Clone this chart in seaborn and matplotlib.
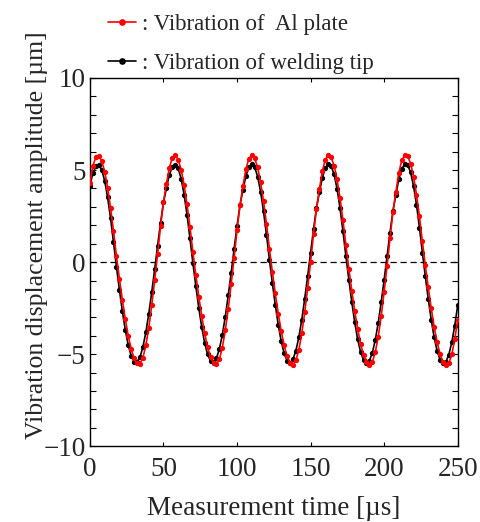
import numpy as np
import pandas as pd
import matplotlib
matplotlib.use("Agg")
import matplotlib.pyplot as plt
from matplotlib.lines import Line2D
from matplotlib.ticker import MultipleLocator
import seaborn as sns

# sampling grid of the measurement (2 us step)
t_step = 2.0
t_us = np.arange(0, 250 + t_step, t_step)

# displacement of the Al plate [um] (one row per cycle)
al_plate = [
    4.30, 5.23, 5.70, 5.78, 5.50, 4.92, 4.05, 2.96, 1.70, 0.35, -0.89, -2.03, -3.08,
    -3.99, -4.71, -5.23, -5.50, -5.52, -5.19, -4.52, -3.55, -2.35, -0.99, 0.45, 1.94, 3.28,
    4.26, 5.13, 5.66, 5.80, 5.56, 5.03, 4.20, 3.14, 1.90, 0.55, -0.71, -1.87, -2.93,
    -3.87, -4.62, -5.17, -5.48, -5.54, -5.27, -4.64, -3.71, -2.54, -1.20, 0.23, 1.73, 3.09,
    4.12, 5.04, 5.62, 5.81, 5.63, 5.14, 4.34, 3.31, 2.09, 0.74, -0.53, -1.70, -2.79,
    -3.74, -4.52, -5.11, -5.46, -5.57, -5.34, -4.77, -3.87, -2.73, -1.41, 0.01, 1.51, 2.91,
    3.97, 4.94, 5.57, 5.80, 5.69, 5.24, 4.49, 3.49, 2.29, 0.94, -0.35, -1.54, -2.64,
    -3.62, -4.43, -5.05, -5.44, -5.56, -5.42, -4.89, -4.04, -2.93, -1.62, -0.21, 1.30, 2.72,
    3.82, 4.85, 5.53, 5.80, 5.76, 5.35, 4.64, 3.67, 2.48, 1.13, -0.18, -1.37, -2.49,
    -3.50, -4.34, -4.99, -5.42, -5.56, -5.49, -5.01, -4.20, -3.12,
]

# displacement of the welding tip [um]
welding_tip = [
    4.15, 4.83, 5.21, 5.29, 5.02, 4.42, 3.52, 2.39, 1.09, -0.25, -1.49, -2.65, -3.67,
    -4.50, -5.08, -5.40, -5.43, -5.16, -4.61, -3.81, -2.80, -1.63, -0.39, 0.90, 2.13, 3.24,
    4.03, 4.75, 5.18, 5.30, 5.09, 4.53, 3.67, 2.57, 1.29, -0.06, -1.31, -2.49, -3.53,
    -4.40, -5.01, -5.37, -5.45, -5.22, -4.71, -3.95, -2.96, -1.81, -0.58, 0.71, 1.96, 3.09,
    3.91, 4.67, 5.14, 5.32, 5.15, 4.65, 3.83, 2.76, 1.49, 0.14, -1.13, -2.32, -3.39,
    -4.29, -4.95, -5.35, -5.47, -5.28, -4.81, -4.08, -3.13, -1.99, -0.77, 0.52, 1.78, 2.94,
    3.79, 4.59, 5.11, 5.33, 5.22, 4.76, 3.98, 2.94, 1.68, 0.33, -0.95, -2.16, -3.26,
    -4.19, -4.88, -5.32, -5.48, -5.35, -4.92, -4.22, -3.29, -2.17, -0.96, 0.33, 1.60, 2.79,
    3.67, 4.51, 5.07, 5.32, 5.28, 4.87, 4.13, 3.12, 1.88, 0.52, -0.77, -2.00, -3.12,
    -4.08, -4.81, -5.29, -5.50, -5.41, -5.02, -4.35, -3.45, -2.35,
]

series_labels = [": Vibration of  Al plate", ": Vibration of welding tip"]
series_colors = ["#ff0000", "black"]

df = pd.DataFrame({"time": t_us, "al": al_plate, "tip": welding_tip})

sns.set_style("ticks")
plt.rcParams["font.family"] = ["Liberation Serif", "DejaVu Serif"]

fig = plt.figure(figsize=(4.81, 5.22), dpi=100)
ax = fig.add_axes([0.187, 0.145, 0.7645, 0.7056])

ax.axhline(0, color="black", lw=0.9, ls=(0, (5, 3)), zorder=1)

sns.lineplot(data=df, x="time", y="tip", ax=ax, color=series_colors[1], lw=1.2,
             marker="o", markersize=3.8, markeredgewidth=0, zorder=2)
sns.lineplot(data=df, x="time", y="al", ax=ax, color=series_colors[0], lw=1.2,
             marker="o", markersize=3.8, markeredgewidth=0, zorder=3)

ax.set_xlim(0, 250)
ax.set_ylim(-10, 10)
ax.xaxis.set_major_locator(MultipleLocator(50))
ax.yaxis.set_major_locator(MultipleLocator(5))
ax.yaxis.set_minor_locator(MultipleLocator(1))
ax.tick_params(which="both", direction="in", top=True, right=True, labelsize=19.5,
               color="black", width=0.8)
ax.tick_params(axis="x", which="major", length=3, pad=8)
ax.tick_params(axis="y", which="both", length=4.5, pad=3)
for s in ax.spines.values():
    s.set_linewidth(1.0)
    s.set_color("black")

ax.set_xlabel("Measurement time [µs]", fontsize=19.5, labelpad=10)
ax.set_ylabel("Vibration displacement amplitude [µm]", fontsize=18.5, labelpad=-3,
              y=0.574)

handles = [Line2D([], [], color=c, lw=1.2, marker="o", markersize=4.8, markeredgewidth=0)
           for c in series_colors]
fig.legend(handles, series_labels, loc="upper left", bbox_to_anchor=(0.195, 1.0),
           frameon=False, fontsize=16.5, handlelength=1.25, handletextpad=0.25,
           labelspacing=0.8, borderaxespad=0.2)

fig.savefig("out.png", dpi=100)
